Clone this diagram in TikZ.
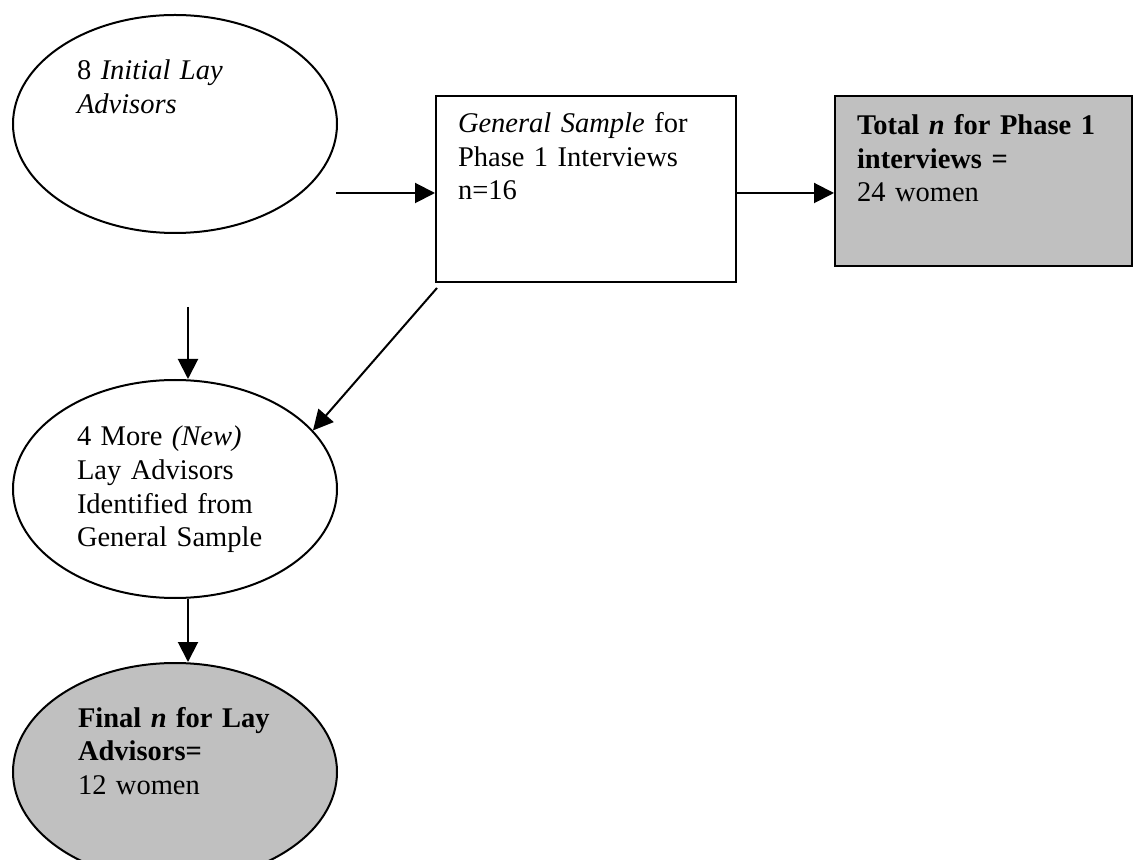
\documentclass[tikz,border=0pt]{standalone}
\usepackage{fontspec}
\setmainfont{Liberation Serif}
\usetikzlibrary{shapes.geometric,arrows.meta}
\definecolor{boxgray}{RGB}{192,192,192}
\begin{document}
\begin{tikzpicture}[x=0.5pt,y=-0.5pt,
  line width=1pt,
  oval/.style={draw=black, ellipse, inner sep=0pt, minimum width=162pt, minimum height=109pt},
  boxnode/.style={draw=black, rectangle, inner sep=0pt},
  txt/.style={anchor=base west, inner sep=0pt, text width=200pt, align=left,
    font=\fontsize{14.25}{16.75}\selectfont},
  arr/.style={-{Triangle[length=10pt,width=10pt]}}]
\path[use as bounding box, clip] (0,0) rectangle (1134,860);
\fill[white] (0,0) rectangle (1134,860);
% shapes
\node[oval] (E1) at (175,124) {};
\node[boxnode, minimum width=150pt, minimum height=93pt] (B1) at (586,189) {};
\node[boxnode, fill=boxgray, minimum width=148.5pt, minimum height=85pt] (B2) at (983.5,181) {};
\node[oval] (E2) at (175,489) {};
\node[oval, fill=boxgray] (E3) at (175,772) {};
% texts
\node[txt] (t1) at (76,80) {8 \textit{Initial Lay}\\\textit{Advisors}};
\node[txt] (t2) at (457,133) {\textit{General Sample} for\\Phase 1 Interviews\\n=16};
\node[txt] (t3) at (856,135) {\textbf{Total \textit{n} for Phase 1}\\\textbf{interviews =}\\24 women};
\node[txt] (t4) at (76,446) {4 More \textit{(New)}\\Lay Advisors\\Identified from\\General Sample};
\node[txt] (t5) at (77,727) {\textbf{Final \textit{n} for Lay}\\\textbf{Advisors=}\\12 women};
% connectors
\coordinate (s1) at (336,193);
\coordinate (s3) at (188,307);
\coordinate (s4) at (437,288);
\draw[arr] (s1) -- (s1 -| B1.west);
\draw[arr] (B1.east |- s1) -- (B2.west |- s1);
\draw[arr] (s3) -- (s3 |- E2.north);
\draw[arr] (s4) -- (E2.23);
\draw[arr] ([xshift=6.5pt]E2.south) -- ([xshift=6.5pt]E3.north);
\end{tikzpicture}
\end{document}
